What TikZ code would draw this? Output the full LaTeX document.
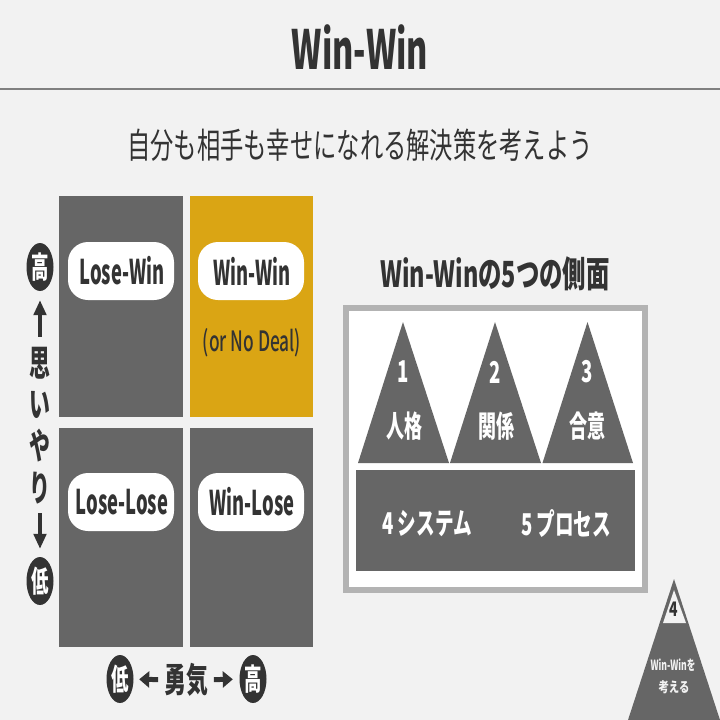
\documentclass[tikz,border=0pt]{standalone}
\usepackage{fontspec}
\setmainfont{Noto Sans CJK JP}
\newfontfamily\medfont{Noto Sans CJK JP Medium}
\usetikzlibrary{arrows.meta,shapes.geometric}
\definecolor{ground}{HTML}{F2F2F2}
\definecolor{panel}{HTML}{666666}
\definecolor{ink}{HTML}{333333}
\definecolor{gold}{HTML}{DAA514}
\definecolor{frame}{HTML}{B3B3B3}
\newcommand{\nar}[2][.54]{\scalebox{#1}[1]{#2}}
\newcommand{\fsz}[1]{\fontsize{#1}{#1}\selectfont}
\tikzset{
  word/.style={inner sep=0pt,text=ink,font=\bfseries\fsz{34}},
  whiteword/.style={word,text=white,font=\bfseries\fsz{30}},
  quad/.style={inner sep=0pt,minimum width=124pt,fill=panel},
  pill/.style={inner sep=0pt,minimum width=106pt,minimum height=58pt,rounded corners=20pt,fill=white},
  badge/.style={ellipse,inner sep=0pt,minimum width=27pt,minimum height=48pt,fill=ink,text=white,font=\bfseries\fsz{30}},
  axis/.style={-{Triangle[length=15pt,width=12.5pt]},line width=3.5pt,draw=ink},
  axish/.style={-{Triangle[length=10pt,width=16pt]},line width=5pt,draw=ink},
}
\begin{document}
\begin{tikzpicture}[x=1pt,y=-1pt]
\useasboundingbox (0,0) rectangle (720,720);
\fill[ground] (0,0) rectangle (720,720);
\draw[line width=1.5pt,draw=gray] (0,89)--(720,89);
\node[word,font=\bfseries\fsz{54}] (title) at (360,47) {\nar[.6]{Win-Win}};
\node[word,font=\fsz{35}] (subtitle) at (360,145) {\nar[.665]{自分も相手も幸せになれる解決策を考えよう}};
% the four quadrants
\node[quad,minimum height=221pt] (losewin) at (121,306.5) {};
\node[quad,minimum width=123pt,minimum height=221pt,fill=gold] (winwin) at (251.5,306.5) {};
\node[quad,minimum height=219pt] (loselose) at (121,537.5) {};
\node[quad,minimum width=123pt,minimum height=219pt] (winlose) at (251.5,537.5) {};
\node[pill] (losewinpill) at (121,271) {};
\node[pill] (winwinpill) at (251,271) {};
\node[pill] (loselosepill) at (121,502) {};
\node[pill] (winlosepill) at (251,502) {};
\node[word] (losewintext) at (122,271) {\nar{Lose-Win}};
\node[word] (winwintext) at (252,271) {\nar{Win-Win}};
\node[word] (loselosetext) at (122,502) {\nar{Lose-Lose}};
\node[word] (winlosetext) at (252,502) {\nar{Win-Lose}};
\node[word,font=\medfont\fsz{28}] (nodeal) at (252,343) {\nar[.62]{(or No Deal)}};
% vertical axis
\node[badge] (highv) at (40,267) {\nar[.58]{高}};
\node[badge] (lowv) at (40,581) {\nar[.58]{低}};
\node[word,font=\bfseries\fsz{36}] (omoi) at (40,363) {\nar[.58]{思}};
\node[word,font=\bfseries\fsz{36}] (omoii) at (40,405) {\nar[.58]{い}};
\node[word,font=\bfseries\fsz{36}] (omoiya) at (40,446) {\nar[.58]{や}};
\node[word,font=\bfseries\fsz{36}] (omoiri) at (40,488) {\nar[.58]{り}};
\draw[axis,shorten <=10pt,shorten >=9pt] (omoi)--(highv);
\draw[axis,shorten <=9pt,shorten >=8pt] (omoiri)--(lowv);
% horizontal axis
\node[badge] (lowh) at (120,679) {\nar[.58]{低}};
\node[badge] (highh) at (253,679) {\nar[.58]{高}};
\node[word] (yuki) at (186,680) {\nar[.64]{勇気}};
\draw[axish,shorten <=6pt,shorten >=5.5pt] (yuki)--(lowh);
\draw[axish,shorten <=6pt,shorten >=6.5pt] (yuki)--(highh);
% five aspects
\node[word,font=\bfseries\fsz{36}] (aspects) at (495,274) {\nar[.65]{Win-Winの5つの側面}};
\node[draw=frame,line width=6pt,fill=white,inner sep=0pt,minimum width=299pt,minimum height=282pt] (aspectframe) at (495.5,449) {};
\fill[panel] (403,322)--(449,463)--(358,463)--cycle;
\fill[panel] (495,322)--(541,463)--(450,463)--cycle;
\fill[panel] (587.5,322)--(633,463)--(542.5,463)--cycle;
\node[fill=panel,inner sep=0pt,minimum width=279pt,minimum height=101pt] (basebar) at (495.5,520.5) {};
\node[whiteword] (one) at (403,372) {\nar[.62]{1}};
\node[whiteword] (two) at (495,372) {\nar[.62]{2}};
\node[whiteword] (three) at (587,372) {\nar[.62]{3}};
\node[whiteword] (character) at (404,426) {\nar[.6]{人格}};
\node[whiteword] (relation) at (496,426) {\nar[.6]{関係}};
\node[whiteword] (agreement) at (587,426) {\nar[.6]{合意}};
\node[whiteword] (system) at (427,524) {\nar[.62]{4 システム}};
\node[whiteword] (process) at (566,524) {\nar[.62]{5 プロセス}};
% page mark
\fill[panel] (674,579)--(720,720)--(628,720)--cycle;
\fill[ground] (674,590)--(686,623)--(663,623)--cycle;
\node[word,font=\bfseries\fsz{20}] (pagenum) at (674,609) {\nar[.7]{4}};
\node[whiteword,text=ground,font=\bfseries\fsz{14}] (pagea) at (673,665) {\nar[.615]{Win-Winを}};
\node[whiteword,text=ground,font=\bfseries\fsz{14}] (pageb) at (674,687) {\nar[.74]{考える}};
\end{tikzpicture}
\end{document}
